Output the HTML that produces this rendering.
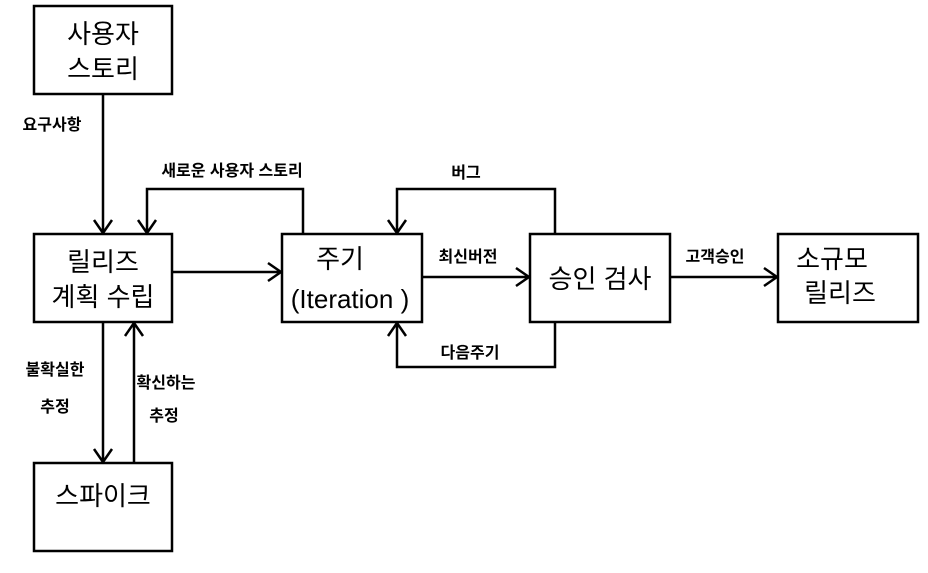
<!DOCTYPE html>
<html><head><meta charset="utf-8"><style>
html,body{margin:0;padding:0;background:#fff}
svg text{font-family:"Liberation Sans","Noto Sans CJK KR","NanumGothic",sans-serif;fill:#000}
</style></head><body>
<svg width="928" height="568" viewBox="0 0 928 568" xmlns="http://www.w3.org/2000/svg">
<g fill="none" stroke="#000" stroke-width="2.5">
<rect x="34" y="6" width="138" height="88"/>
<rect x="34" y="234" width="138" height="88"/>
<rect x="34" y="463" width="138" height="88"/>
<rect x="282" y="234" width="140" height="88"/>
<rect x="530" y="234" width="140" height="88"/>
<rect x="778" y="234" width="140" height="88"/>
<path d="M103 94V233M94 220l9 13 9-13"/>
<path d="M303 234V189H147V233M138 220l9 13 9-13"/>
<path d="M172 272H281M268 263l13 9-13 9"/>
<path d="M422 277H529M516 268l13 9-13 9"/>
<path d="M555 234V189H397V233M388 220l9 13 9-13"/>
<path d="M555 322V367H397V323M388 336l9-13 9 13"/>
<path d="M670 277H777M764 268l13 9-13 9"/>
<path d="M103 322V462M94 449l9 13 9-13"/>
<path d="M134 463V323M125 336l9-13 9 13"/>
</g>
<g font-size="26" text-anchor="middle">
<text x="103" y="43">사용자</text>
<text x="103" y="78">스토리</text>
<text x="103" y="271">릴리즈</text>
<text x="103" y="306">계획 수립</text>
<text x="103" y="505">스파이크</text>
<text x="340" y="268">주기</text>
<text x="350" y="308">(Iteration )</text>
<text x="600" y="288">승인 검사</text>
<text x="832" y="268">소규모</text>
<text x="840" y="302">릴리즈</text>
</g>
<g font-size="16" text-anchor="middle" font-weight="bold">
<text x="52" y="130">요구사항</text>
<text x="232" y="176">새로운 사용자 스토리</text>
<text x="466" y="178">버그</text>
<text x="468" y="262">최신버전</text>
<text x="470" y="358">다음주기</text>
<text x="715" y="262">고객승인</text>
<text x="55" y="375">불확실한</text>
<text x="55" y="412">추정</text>
<text x="166" y="388">확신하는</text>
<text x="164" y="421">추정</text>
</g>
</svg>
</body></html>
